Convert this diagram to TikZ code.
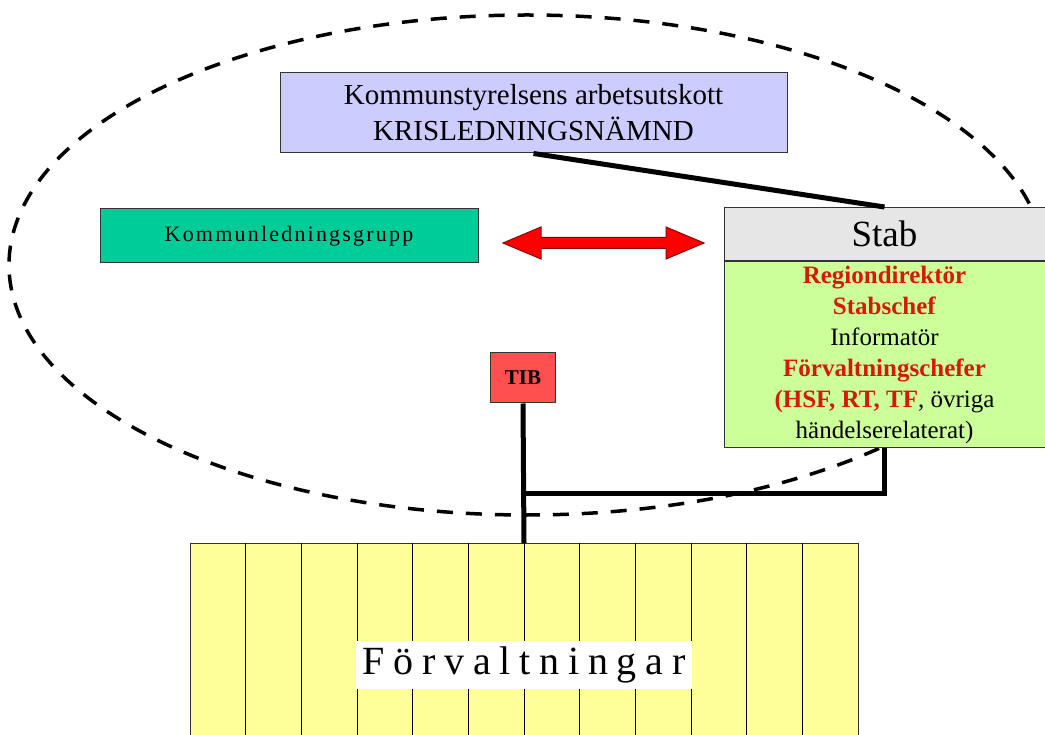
\documentclass[tikz,border=0pt]{standalone}
\usepackage{fontspec}
\setmainfont{Liberation Serif}
\usepackage{tikz}
\usepackage{xcolor}
\definecolor{ksblue}{RGB}{204,204,255}
\definecolor{klgreen}{RGB}{0,204,153}
\definecolor{stabgrey}{RGB}{230,230,230}
\definecolor{stabgreen}{RGB}{204,255,153}
\definecolor{tibred}{RGB}{255,80,80}
\definecolor{forvyellow}{RGB}{255,255,153}
\definecolor{textred}{RGB}{215,25,10}
\tikzset{every picture/.style={line width=0.75pt}}
\tikzset{
  orgbox/.style={draw=black!80, line width=1pt, inner sep=0pt, align=center},
  thickline/.style={line width=5pt, line join=miter},
}
\newcommand{\redb}[1]{\textcolor{textred}{\textbf{#1}}}

\begin{document}
\begin{tikzpicture}[x=1pt,y=1pt,yscale=-1,xscale=1]
\useasboundingbox (0,0) rectangle (1045,735);

%Shape: Ellipse
\draw [line width=3.5pt, dash pattern=on 16pt off 13pt] (527,265) ellipse [x radius=518, y radius=250];

%Shape: Rectangle
\node (ksau) [orgbox, fill=ksblue, minimum width=507, minimum height=80, font=\fontsize{29}{36}\selectfont] at (533.5,113) {Kommunstyrelsens arbetsutskott\\KRISLEDNINGSNÄMND};
%Shape: Rectangle
\node (klg) [orgbox, fill=klgreen, minimum width=378, minimum height=54, font=\fontsize{22}{26}\selectfont\addfontfeature{LetterSpace=10}] at (289,236) {Kommunledningsgrupp};

%Shape: Double Arrow
\draw [fill=red, draw=red!55!black, line width=1pt] (503,243) -- (541,227) -- (541,237.5) -- (666,237.5) -- (666,227) -- (704,243) -- (666,259) -- (666,248.5) -- (541,248.5) -- (541,259) -- cycle ;

%Shape: Rectangle
\node (stab) [orgbox, fill=stabgrey, minimum width=321, minimum height=53, font=\fontsize{37}{40}\selectfont] at (884.5,234) {Stab};
%Shape: Rectangle
\node (stabbody) [orgbox, fill=stabgreen, minimum width=321, minimum height=186, anchor=north, font=\fontsize{25}{31}\selectfont] at (stab.south) {\redb{Regiondirektör}\\\redb{Stabschef}\\Informatör\\\redb{Förvaltningschefer}\\\redb{(HSF, RT, TF}, övriga\\händelserelaterat)};

%Shape: Rectangle
\node (tib) [orgbox, fill=tibred, minimum width=65, minimum height=50, font=\fontsize{21}{24}\selectfont\bfseries] at (523,378) {TIB};

%Shape: Rectangle
\node (forv) [orgbox, fill=forvyellow, minimum width=668, minimum height=200, anchor=north] at (524,543) {};
\foreach \i in {1,...,11}
  \draw [line width=1pt] (190+\i*55.67,543) -- (190+\i*55.67,735) ;
% Text Node
\node (forvlabel) [fill=white, inner xsep=6, inner ysep=6, font=\fontsize{40}{44}\selectfont\addfontfeature{LetterSpace=22}] at (524,665) {Förvaltningar};

%Straight Lines
\draw [thickline] (ksau.south) -- (stab.north) ;
\draw [thickline] (tib.south) -- (forv.north) ;
\coordinate (jn) at (tib.south |- 0,493);
\draw [thickline] (jn) -| (stabbody.south) ;

\end{tikzpicture}
\end{document}
